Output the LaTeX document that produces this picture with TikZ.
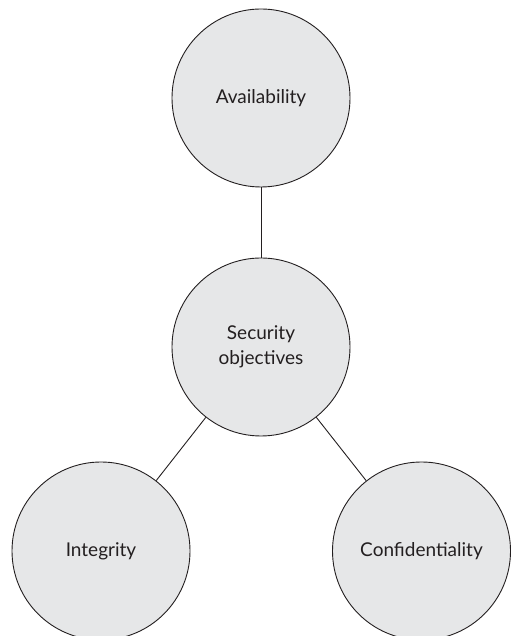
\documentclass[tikz,border=0pt]{standalone}
\usepackage{fontspec}
\setmainfont{Lato}
\definecolor{circfill}{HTML}{E6E7E8}
\definecolor{circline}{HTML}{231F20}
\tikzset{
    objective/.style={circle, draw=circline, fill=circfill, line width=0.9pt,
        minimum size=178pt, inner sep=0pt, align=center,
        font=\fontsize{19}{25}\selectfont, text=circline}
}
\begin{document}
\begin{tikzpicture}[x=1pt,y=1pt]
                \useasboundingbox (0,0) rectangle (511,636);
                \node[objective] (avail) at (261,538) {Availability};
                \node[objective] (secobj) at (261,289) {Security\\objectives};
                \node[objective] (integ) at (101,85) {Integrity};
                \node[objective] (confid) at (421.5,85) {Confidentiality};

                \draw[circline, line width=0.9pt] (avail) -- (secobj);
                \draw[circline, line width=0.9pt] (secobj) -- (integ);
                \draw[circline, line width=0.9pt] (secobj) -- (confid);
            \end{tikzpicture}
\end{document}
